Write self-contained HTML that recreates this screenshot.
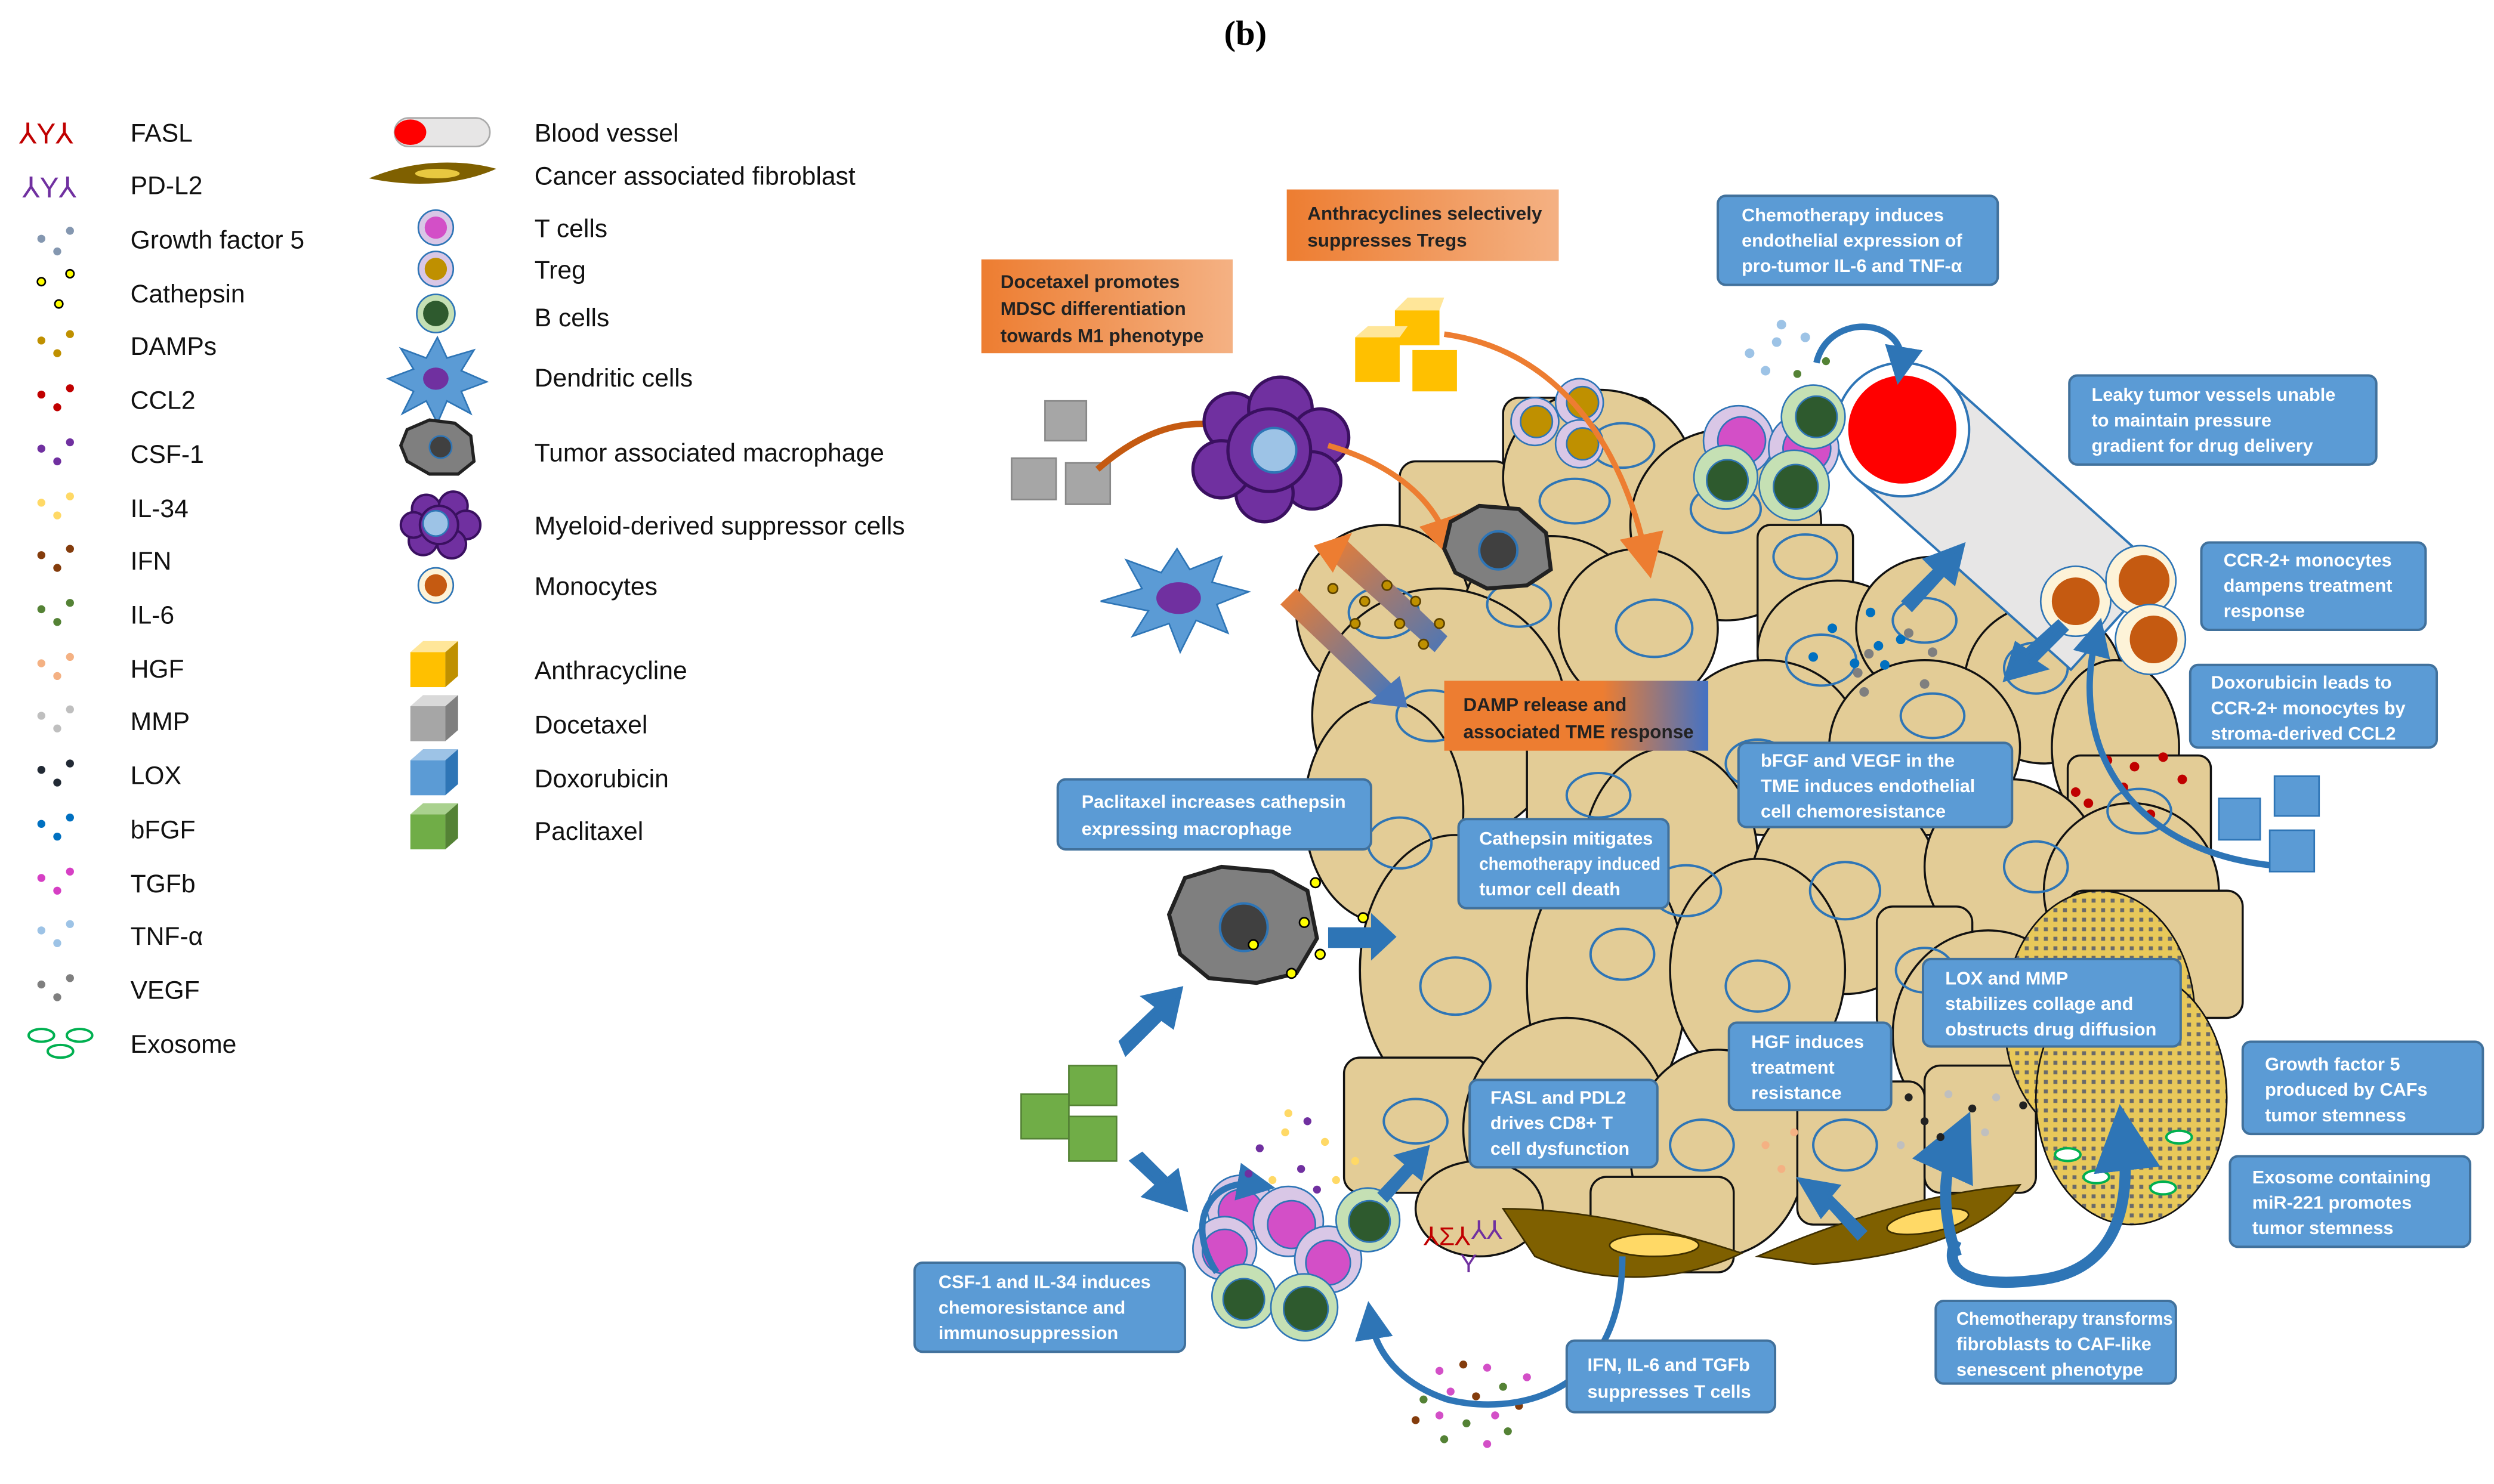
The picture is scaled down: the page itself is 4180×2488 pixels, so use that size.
<!DOCTYPE html>
<html><head><meta charset="utf-8"><style>
html,body{margin:0;padding:0;background:#fff;}
svg{display:block;}
text{font-family:"Liberation Sans",sans-serif;}
.bt{fill:#fff;font-size:11.5px;font-weight:bold;}
.ot{fill:#222;font-size:11.8px;font-weight:bold;}
.lg{fill:#111;font-size:16px;}
.c{fill:#e3cc96;stroke:#111;stroke-width:1.3;}
.n{fill:none;stroke:#2e75b6;stroke-width:1.5;}
.bx{fill:#5b9bd5;stroke:#41719c;stroke-width:1.5;}
</style></head><body>
<svg width="4180" height="2488" viewBox="0 0 1568 933" xmlns="http://www.w3.org/2000/svg">
<defs>
<linearGradient id="og" x1="0" x2="1"><stop offset="0" stop-color="#ed7d31"/><stop offset="1" stop-color="#f4b183"/></linearGradient>
<linearGradient id="og2" x1="0" x2="1"><stop offset="0" stop-color="#ed7d31"/><stop offset="0.6" stop-color="#ed7d31"/><stop offset="1" stop-color="#4472c4"/></linearGradient>
<linearGradient id="ag" x1="0" y1="0" x2="1" y2="1"><stop offset="0" stop-color="#ed7d31"/><stop offset="1" stop-color="#4a76b8"/></linearGradient>
<pattern id="dots" width="6" height="6" patternUnits="userSpaceOnUse"><rect width="6" height="6" fill="#e8c85a"/><rect x="1" y="1" width="2.5" height="2.5" fill="#6a6a6a"/></pattern>
<marker id="ma" markerWidth="8" markerHeight="8" refX="4" refY="4" orient="auto"><path d="M0,0 L8,4 L0,8 z" fill="#ed7d31"/></marker>
<marker id="mb" markerWidth="6" markerHeight="6" refX="3" refY="3" orient="auto"><path d="M0,0 L6,3 L0,6 z" fill="#2e75b6"/></marker>
</defs>

<text x="783" y="28" text-anchor="middle" style="font-family:'Liberation Serif',serif" font-weight="bold" font-size="22">(b)</text>

<g fill="#c00000" font-size="18"><text x="12" y="90">⅄Y⅄</text></g>
<g fill="#7030a0" font-size="18"><text x="14" y="124">⅄Y⅄</text></g>
<g>
<g><circle cx="26" cy="150" r="2.5" fill="#8497b0"/><circle cx="44" cy="145" r="2.5" fill="#8497b0"/><circle cx="36" cy="158" r="2.5" fill="#8497b0"/></g>
<g fill="#ff0" stroke="#000"><circle cx="26" cy="177" r="2.5"/><circle cx="44" cy="172" r="2.5"/><circle cx="37" cy="191" r="2.5"/></g>
<g fill="#bf9000"><circle cx="26" cy="214" r="2.5"/><circle cx="44" cy="210" r="2.5"/><circle cx="36" cy="222" r="2.5"/></g>
<g fill="#c00000"><circle cx="26" cy="248" r="2.5"/><circle cx="44" cy="244" r="2.5"/><circle cx="36" cy="256" r="2.5"/></g>
<g fill="#7030a0"><circle cx="26" cy="282" r="2.5"/><circle cx="44" cy="278" r="2.5"/><circle cx="36" cy="290" r="2.5"/></g>
<g fill="#ffd966"><circle cx="26" cy="316" r="2.5"/><circle cx="44" cy="312" r="2.5"/><circle cx="36" cy="324" r="2.5"/></g>
<g fill="#843c0c"><circle cx="26" cy="349" r="2.5"/><circle cx="44" cy="345" r="2.5"/><circle cx="36" cy="357" r="2.5"/></g>
<g fill="#548235"><circle cx="26" cy="383" r="2.5"/><circle cx="44" cy="379" r="2.5"/><circle cx="36" cy="391" r="2.5"/></g>
<g fill="#f4b183"><circle cx="26" cy="417" r="2.5"/><circle cx="44" cy="413" r="2.5"/><circle cx="36" cy="425" r="2.5"/></g>
<g fill="#bfbfbf"><circle cx="26" cy="450" r="2.5"/><circle cx="44" cy="446" r="2.5"/><circle cx="36" cy="458" r="2.5"/></g>
<g fill="#222a35"><circle cx="26" cy="484" r="2.5"/><circle cx="44" cy="480" r="2.5"/><circle cx="36" cy="492" r="2.5"/></g>
<g fill="#0070c0"><circle cx="26" cy="518" r="2.5"/><circle cx="44" cy="514" r="2.5"/><circle cx="36" cy="526" r="2.5"/></g>
<g fill="#d63fc4"><circle cx="26" cy="552" r="2.5"/><circle cx="44" cy="548" r="2.5"/><circle cx="36" cy="560" r="2.5"/></g>
<g fill="#9dc3e6"><circle cx="26" cy="585" r="2.5"/><circle cx="44" cy="581" r="2.5"/><circle cx="36" cy="593" r="2.5"/></g>
<g fill="#7f7f7f"><circle cx="26" cy="619" r="2.5"/><circle cx="44" cy="615" r="2.5"/><circle cx="36" cy="627" r="2.5"/></g>
<g fill="none" stroke="#00b050" stroke-width="1.5"><ellipse cx="26" cy="651" rx="8" ry="4"/><ellipse cx="50" cy="651" rx="8" ry="4"/><ellipse cx="38" cy="661" rx="8" ry="4"/></g>
</g>
<g class="lg">
<text x="82" y="89">FASL</text><text x="82" y="122">PD-L2</text><text x="82" y="156">Growth factor 5</text><text x="82" y="190">Cathepsin</text><text x="82" y="223">DAMPs</text><text x="82" y="257">CCL2</text><text x="82" y="291">CSF-1</text><text x="82" y="325">IL-34</text><text x="82" y="358">IFN</text><text x="82" y="392">IL-6</text><text x="82" y="426">HGF</text><text x="82" y="459">MMP</text><text x="82" y="493">LOX</text><text x="82" y="527">bFGF</text><text x="82" y="561">TGFb</text><text x="82" y="594">TNF-α</text><text x="82" y="628">VEGF</text><text x="82" y="662">Exosome</text>
</g>
<rect x="248" y="74" width="60" height="18" rx="9" fill="#e7e6e6" stroke="#aaa"/><ellipse cx="258" cy="83" rx="10" ry="8" fill="#f00"/>
<path d="M232,112 C260,100 290,100 312,106 C290,116 260,118 232,112z" fill="#7f6000"/><ellipse cx="275" cy="109" rx="14" ry="3" fill="#e8c840"/>
<circle cx="274" cy="143" r="11" fill="#d9c7e6" stroke="#2e75b6"/><circle cx="274" cy="143" r="7" fill="#d34fc7"/>
<circle cx="274" cy="169" r="11" fill="#d9c7e6" stroke="#2e75b6"/><circle cx="274" cy="169" r="7" fill="#bf9000"/>
<circle cx="274" cy="197" r="12" fill="#c5e0b4" stroke="#2e75b6"/><circle cx="274" cy="197" r="8" fill="#2e5a2e"/>
<polygon points="275,212 281,225 298,220 290,233 306,240 290,246 296,260 281,252 275,266 268,252 253,260 260,246 244,238 260,232 252,219 268,225" fill="#5b9bd5" stroke="#2e75b6"/><ellipse cx="274" cy="238" rx="8" ry="7" fill="#7030a0"/>
<path d="M256,270 L270,264 L286,266 L296,274 L298,290 L288,298 L270,298 L256,290 L252,280z" fill="#7f7f7f" stroke="#222" stroke-width="2"/><circle cx="277" cy="281" r="7" fill="#404040" stroke="#2e75b6"/>
<g fill="#7030a0" stroke="#3a1060" stroke-width="1.5"><circle cx="268" cy="320" r="9"/><circle cx="285" cy="318" r="9"/><circle cx="293" cy="330" r="9"/><circle cx="284" cy="342" r="9"/><circle cx="266" cy="340" r="9"/><circle cx="260" cy="330" r="8"/><circle cx="276" cy="330" r="12"/></g><circle cx="274" cy="329" r="8" fill="#9dc3e6" stroke="#2e75b6"/>
<circle cx="274" cy="368" r="11" fill="#fdf3d8" stroke="#2e75b6"/><circle cx="274" cy="368" r="7" fill="#c55a11"/>
<g><polygon points="258,410 280,410 288,403 266,403" fill="#ffe699"/><rect x="258" y="410" width="22" height="22" fill="#ffc000"/><polygon points="280,410 288,403 288,425 280,432" fill="#bf9000"/></g>
<g><polygon points="258,444 280,444 288,437 266,437" fill="#d9d9d9"/><rect x="258" y="444" width="22" height="22" fill="#a6a6a6"/><polygon points="280,444 288,437 288,459 280,466" fill="#7f7f7f"/></g>
<g><polygon points="258,478 280,478 288,471 266,471" fill="#9dc3e6"/><rect x="258" y="478" width="22" height="22" fill="#5b9bd5"/><polygon points="280,478 288,471 288,493 280,500" fill="#2e75b6"/></g>
<g><polygon points="258,512 280,512 288,505 266,505" fill="#a9d18e"/><rect x="258" y="512" width="22" height="22" fill="#70ad47"/><polygon points="280,512 288,505 288,527 280,534" fill="#548235"/></g>
<g class="lg">
<text x="336" y="89">Blood vessel</text><text x="336" y="116">Cancer associated fibroblast</text><text x="336" y="149">T cells</text><text x="336" y="175">Treg</text><text x="336" y="205">B cells</text><text x="336" y="243">Dendritic cells</text><text x="336" y="290">Tumor associated macrophage</text><text x="336" y="336">Myeloid-derived suppressor cells</text><text x="336" y="374">Monocytes</text><text x="336" y="427">Anthracycline</text><text x="336" y="461">Docetaxel</text><text x="336" y="495">Doxorubicin</text><text x="336" y="528">Paclitaxel</text>
</g>

<g>
<rect class="c" x="945" y="250" width="95" height="105" rx="10"/>
<rect class="c" x="880" y="290" width="70" height="90" rx="10"/>
<ellipse class="c" cx="1005" cy="300" rx="60" ry="55"/>
<ellipse class="c" cx="1085" cy="330" rx="60" ry="60"/>
<ellipse class="c" cx="870" cy="385" rx="55" ry="55"/>
<ellipse class="c" cx="975" cy="385" rx="55" ry="48"/>
<ellipse class="c" cx="1030" cy="395" rx="50" ry="50"/>
<rect class="c" x="1105" y="330" width="60" height="90" rx="8"/>
<ellipse class="c" cx="1155" cy="410" rx="50" ry="45"/>
<ellipse class="c" cx="1215" cy="395" rx="48" ry="45"/>
<ellipse class="c" cx="1285" cy="430" rx="50" ry="50"/>
<ellipse class="c" cx="1330" cy="470" rx="40" ry="55"/>
<ellipse class="c" cx="905" cy="450" rx="80" ry="80"/>
<rect class="c" x="960" y="440" width="90" height="120" rx="10"/>
<ellipse class="c" cx="1110" cy="470" rx="60" ry="55"/>
<ellipse class="c" cx="1210" cy="470" rx="60" ry="55"/>
<rect class="c" x="1300" y="475" width="90" height="80" rx="8"/>
<ellipse class="c" cx="870" cy="510" rx="50" ry="70"/>
<ellipse class="c" cx="1050" cy="540" rx="55" ry="70"/>
<ellipse class="c" cx="1160" cy="560" rx="60" ry="65"/>
<ellipse class="c" cx="1265" cy="545" rx="55" ry="55"/>
<ellipse class="c" cx="1340" cy="560" rx="55" ry="55"/>
<ellipse class="c" cx="915" cy="610" rx="60" ry="85"/>
<ellipse class="c" cx="1010" cy="620" rx="50" ry="85"/>
<ellipse class="c" cx="1105" cy="610" rx="55" ry="70"/>
<rect class="c" x="1180" y="570" width="60" height="80" rx="10"/>
<rect class="c" x="1300" y="560" width="110" height="80" rx="10"/>
<ellipse class="c" cx="1250" cy="650" rx="60" ry="65"/>
<rect class="c" x="845" y="665" width="90" height="85" rx="10"/>
<ellipse class="c" cx="985" cy="710" rx="65" ry="70"/>
<ellipse class="c" cx="1080" cy="725" rx="55" ry="65"/>
<rect class="c" x="1130" y="680" width="80" height="90" rx="10"/>
<rect class="c" x="1210" y="670" width="70" height="80" rx="10"/>
<ellipse class="c" cx="930" cy="760" rx="40" ry="30"/>
<rect class="c" x="1000" y="740" width="90" height="60" rx="10"/>
</g>
<g>
<ellipse class="n" cx="990" cy="315" rx="22" ry="14"/><ellipse class="n" cx="1020" cy="280" rx="20" ry="14"/><ellipse class="n" cx="1085" cy="320" rx="22" ry="15"/><ellipse class="n" cx="870" cy="385" rx="22" ry="16"/><ellipse class="n" cx="955" cy="380" rx="20" ry="14"/><ellipse class="n" cx="1040" cy="395" rx="24" ry="18"/><ellipse class="n" cx="1135" cy="350" rx="20" ry="14"/><ellipse class="n" cx="1145" cy="415" rx="22" ry="16"/><ellipse class="n" cx="1210" cy="390" rx="20" ry="14"/><ellipse class="n" cx="1280" cy="420" rx="20" ry="16"/><ellipse class="n" cx="900" cy="450" rx="22" ry="16"/><ellipse class="n" cx="1005" cy="500" rx="20" ry="14"/><ellipse class="n" cx="1105" cy="480" rx="20" ry="15"/><ellipse class="n" cx="1215" cy="450" rx="20" ry="14"/><ellipse class="n" cx="1345" cy="510" rx="20" ry="14"/><ellipse class="n" cx="880" cy="530" rx="20" ry="16"/><ellipse class="n" cx="1060" cy="560" rx="22" ry="16"/><ellipse class="n" cx="1160" cy="560" rx="22" ry="18"/><ellipse class="n" cx="1280" cy="545" rx="20" ry="16"/><ellipse class="n" cx="915" cy="620" rx="22" ry="18"/><ellipse class="n" cx="1020" cy="600" rx="20" ry="16"/><ellipse class="n" cx="1105" cy="620" rx="20" ry="16"/><ellipse class="n" cx="1210" cy="610" rx="18" ry="14"/><ellipse class="n" cx="890" cy="705" rx="20" ry="14"/><ellipse class="n" cx="1070" cy="720" rx="20" ry="16"/><ellipse class="n" cx="1160" cy="720" rx="20" ry="16"/><ellipse class="n" cx="1330" cy="595" rx="20" ry="14"/>
</g>

<ellipse cx="1320" cy="640" rx="60" ry="80" fill="url(#dots)" stroke="#111"/>
<ellipse cx="1340" cy="690" rx="60" ry="80" fill="url(#dots)" stroke="#111"/>
<g fill="#fff" stroke="#00b050" stroke-width="1.5"><ellipse cx="1300" cy="726" rx="8" ry="4"/><ellipse cx="1318" cy="740" rx="8" ry="4"/><ellipse cx="1370" cy="715" rx="8" ry="4"/><ellipse cx="1360" cy="747" rx="8" ry="4"/></g>
<path d="M945,760 C990,760 1040,770 1095,788 C1060,805 1010,810 965,790 Z" fill="#7f6000" stroke="#3d2e00"/>
<ellipse cx="1040" cy="783" rx="28" ry="7" fill="#ffd966" stroke="#3d2e00"/>
<path d="M1105,790 C1150,770 1210,750 1270,745 C1250,775 1200,790 1140,795 Z" fill="#7f6000" stroke="#3d2e00"/>
<ellipse cx="1212" cy="768" rx="26" ry="7" fill="#ffd966" stroke="#3d2e00" transform="rotate(-10 1212 768)"/>

<polygon points="1168,301 1224,239 1358,359 1302,421" fill="#e7e6e6" stroke="#2e75b6" stroke-width="1.5"/>
<circle cx="1196" cy="270" r="42" fill="#fff" stroke="#2e75b6" stroke-width="1.5"/>
<circle cx="1196" cy="270" r="34" fill="#f00"/>
<g><circle cx="1305" cy="378" r="22" fill="#fdf3d8" stroke="#2e75b6"/><circle cx="1305" cy="378" r="15" fill="#c55a11"/>
<circle cx="1346" cy="365" r="22" fill="#fdf3d8" stroke="#2e75b6"/><circle cx="1348" cy="365" r="16" fill="#c55a11"/>
<circle cx="1352" cy="402" r="22" fill="#fdf3d8" stroke="#2e75b6"/><circle cx="1354" cy="402" r="15" fill="#c55a11"/></g>
<g stroke="#2e75b6">
<circle cx="1093" cy="277" r="22" fill="#d9c7e6"/><circle cx="1095" cy="277" r="15" fill="#d34fc7"/>
<circle cx="1134" cy="282" r="22" fill="#d9c7e6"/><circle cx="1136" cy="282" r="15" fill="#d34fc7"/>
<circle cx="1085" cy="300" r="20" fill="#c5e0b4"/><circle cx="1086" cy="302" r="13" fill="#2e5a2e"/>
<circle cx="1128" cy="305" r="22" fill="#c5e0b4"/><circle cx="1129" cy="306" r="14" fill="#2e5a2e"/>
<circle cx="1140" cy="262" r="20" fill="#c5e0b4"/><circle cx="1142" cy="262" r="13" fill="#2e5a2e"/>
</g>
<g fill="#9dc3e6"><circle cx="1100" cy="222" r="3"/><circle cx="1117" cy="215" r="3"/><circle cx="1135" cy="212" r="3"/><circle cx="1110" cy="233" r="3"/><circle cx="1120" cy="204" r="3"/></g>
<g fill="#548235"><circle cx="1148" cy="227" r="2.5"/><circle cx="1196" cy="225" r="2.5"/><circle cx="1130" cy="235" r="2.5"/></g>
<path d="M1142,228 C1150,195 1200,200 1195,230" fill="none" stroke="#2e75b6" stroke-width="4" marker-end="url(#mb)"/>
<g stroke="#2e75b6"><circle cx="965" cy="265" r="15" fill="#d9c7e6"/><circle cx="966" cy="265" r="10" fill="#bf9000"/>
<circle cx="993" cy="253" r="15" fill="#d9c7e6"/><circle cx="995" cy="253" r="10" fill="#bf9000"/>
<circle cx="993" cy="279" r="15" fill="#d9c7e6"/><circle cx="995" cy="279" r="10" fill="#bf9000"/></g>

<g><rect x="877" y="195" width="28" height="22" fill="#ffc000"/><rect x="852" y="212" width="28" height="28" fill="#ffc000"/><rect x="888" y="220" width="28" height="26" fill="#ffc000"/>
<polygon points="877,195 885,187 908,187 905,195" fill="#ffe699"/><polygon points="852,212 860,205 885,205 880,212" fill="#ffe699"/></g>
<path d="M908,210 C980,220 1020,280 1035,350" fill="none" stroke="#ed7d31" stroke-width="3.5" marker-end="url(#ma)"/>
<g><rect x="657" y="252" width="26" height="25" fill="#a6a6a6" stroke="#888"/><rect x="636" y="288" width="28" height="26" fill="#a6a6a6" stroke="#888"/><rect x="670" y="291" width="28" height="26" fill="#a6a6a6" stroke="#888"/></g>
<path d="M690,295 C730,260 760,265 780,270" fill="none" stroke="#c55a11" stroke-width="4"/>
<g fill="#7030a0" stroke="#3a1060" stroke-width="2"><circle cx="775" cy="265" r="18"/><circle cx="805" cy="257" r="20"/><circle cx="830" cy="275" r="18"/><circle cx="825" cy="302" r="18"/><circle cx="795" cy="310" r="18"/><circle cx="768" cy="295" r="18"/><circle cx="798" cy="283" r="26"/></g>
<circle cx="801" cy="283" r="14" fill="#9dc3e6" stroke="#2e75b6" stroke-width="1.5"/>
<path d="M835,280 C870,290 900,310 910,340" fill="none" stroke="#ed7d31" stroke-width="3.5" marker-end="url(#ma)"/>
<path d="M912,328 L930,318 L955,320 L972,335 L975,358 L960,368 L935,370 L915,360 L908,345z" fill="#7f7f7f" stroke="#222" stroke-width="2.5"/>
<circle cx="942" cy="346" r="12" fill="#404040" stroke="#2e75b6" stroke-width="1.5"/>
<polygon points="740,345 748,358 768,350 762,366 785,372 765,380 772,398 752,390 742,410 735,392 712,400 722,384 692,378 718,370 708,352 730,360" fill="#5b9bd5" stroke="#2e75b6"/><ellipse cx="741" cy="376" rx="14" ry="10" fill="#7030a0"/>
<polygon points="832,345 845,338 910,400 902,410 837,352" fill="url(#ag)"/>
<polygon points="826,343 850,335 838,360" fill="#ed7d31"/>
<polygon points="805,380 815,370 875,430 866,438" fill="url(#ag)"/>
<polygon points="885,445 860,442 880,425" fill="#4a76b8"/>
<g fill="#bf9000" stroke="#5a4000"><circle cx="838" cy="370" r="3"/><circle cx="858" cy="378" r="3"/><circle cx="872" cy="368" r="3"/><circle cx="890" cy="378" r="3"/><circle cx="852" cy="392" r="3"/><circle cx="880" cy="392" r="3"/><circle cx="905" cy="392" r="3"/><circle cx="895" cy="405" r="3"/></g>
<g fill="#0070c0"><circle cx="1152" cy="395" r="3"/><circle cx="1176" cy="385" r="3"/><circle cx="1181" cy="406" r="3"/><circle cx="1140" cy="413" r="3"/><circle cx="1195" cy="402" r="3"/><circle cx="1166" cy="417" r="3"/><circle cx="1185" cy="418" r="3"/></g>
<g fill="#7f7f7f"><circle cx="1175" cy="411" r="3"/><circle cx="1200" cy="398" r="3"/><circle cx="1168" cy="423" r="3"/><circle cx="1215" cy="410" r="3"/><circle cx="1210" cy="430" r="3"/><circle cx="1172" cy="435" r="3"/></g>
<polygon points="1198,378 1218,358 1212,352 1233,344 1228,365 1222,360 1202,382" fill="#2e75b6" stroke="#2e75b6" stroke-width="4"/>
<polygon points="1298,396 1278,416 1284,420 1262,426 1268,406 1274,410 1294,392" fill="#2e75b6" stroke="#2e75b6" stroke-width="4"/>
<g fill="#c00000"><circle cx="1325" cy="478" r="3"/><circle cx="1342" cy="482" r="3"/><circle cx="1360" cy="476" r="3"/><circle cx="1372" cy="490" r="3"/><circle cx="1335" cy="495" r="3"/><circle cx="1305" cy="498" r="3"/><circle cx="1352" cy="512" r="3"/><circle cx="1313" cy="505" r="3"/></g>
<path d="M1440,545 C1340,540 1300,470 1318,400" fill="none" stroke="#2e75b6" stroke-width="4" marker-end="url(#mb)"/>
<g><rect x="1395" y="502" width="26" height="26" fill="#5b9bd5" stroke="#2e75b6"/><rect x="1430" y="488" width="28" height="25" fill="#5b9bd5" stroke="#2e75b6"/><rect x="1427" y="522" width="28" height="26" fill="#5b9bd5" stroke="#2e75b6"/></g>
<path d="M745,552 L768,545 L800,548 L822,560 L828,590 L815,612 L790,618 L760,615 L742,600 L735,575z" fill="#7f7f7f" stroke="#222" stroke-width="2.5"/>
<circle cx="782" cy="583" r="15" fill="#404040" stroke="#2e75b6" stroke-width="1.5"/>
<g fill="#ff0" stroke="#000"><circle cx="827" cy="555" r="3"/><circle cx="820" cy="580" r="3"/><circle cx="830" cy="600" r="3"/><circle cx="857" cy="577" r="3"/><circle cx="788" cy="594" r="3"/><circle cx="812" cy="612" r="3"/></g>
<polygon points="835,583 862,583 862,574 878,589 862,604 862,596 835,596" fill="#2e75b6"/>
<polygon points="705,655 728,633 720,627 742,622 737,645 730,640 708,662" fill="#2e75b6" stroke="#2e75b6" stroke-width="3"/>
<polygon points="712,730 728,745 720,752 745,760 740,737 734,742 718,726" fill="#2e75b6" stroke="#2e75b6" stroke-width="3"/>
<g><rect x="672" y="670" width="30" height="25" fill="#70ad47" stroke="#548235"/><rect x="642" y="688" width="30" height="28" fill="#70ad47" stroke="#548235"/><rect x="672" y="702" width="30" height="28" fill="#70ad47" stroke="#548235"/></g>
<g stroke="#2e75b6">
<circle cx="780" cy="760" r="21" fill="#d9c7e6"/><circle cx="780" cy="762" r="14" fill="#d34fc7"/>
<circle cx="810" cy="768" r="22" fill="#d9c7e6"/><circle cx="812" cy="770" r="15" fill="#d34fc7"/>
<circle cx="835" cy="792" r="21" fill="#d9c7e6"/><circle cx="835" cy="794" r="14" fill="#d34fc7"/>
<circle cx="770" cy="785" r="20" fill="#d9c7e6"/><circle cx="770" cy="787" r="14" fill="#d34fc7"/>
<circle cx="782" cy="815" r="20" fill="#c5e0b4"/><circle cx="782" cy="817" r="13" fill="#2e5a2e"/>
<circle cx="820" cy="822" r="21" fill="#c5e0b4"/><circle cx="821" cy="823" r="14" fill="#2e5a2e"/>
<circle cx="860" cy="767" r="20" fill="#c5e0b4"/><circle cx="861" cy="768" r="13" fill="#2e5a2e"/>
</g>
<path d="M765,800 C745,770 760,740 790,745" fill="none" stroke="#2e75b6" stroke-width="4" marker-end="url(#mb)"/>
<polygon points="868,750 885,732 879,727 897,722 893,740 888,736 872,754" fill="#2e75b6" stroke="#2e75b6" stroke-width="3"/>
<g><circle cx="792" cy="722" r="2.5" fill="#7030a0"/><circle cx="808" cy="712" r="2.5" fill="#ffd966"/><circle cx="822" cy="705" r="2.5" fill="#7030a0"/><circle cx="833" cy="718" r="2.5" fill="#ffd966"/><circle cx="818" cy="735" r="2.5" fill="#7030a0"/><circle cx="840" cy="742" r="2.5" fill="#ffd966"/><circle cx="800" cy="742" r="2.5" fill="#ffd966"/><circle cx="828" cy="748" r="2.5" fill="#7030a0"/><circle cx="852" cy="730" r="2.5" fill="#ffd966"/><circle cx="785" cy="738" r="2.5" fill="#7030a0"/><circle cx="810" cy="700" r="2.5" fill="#ffd966"/></g>
<text x="895" y="783" font-size="16" fill="#c00000">⅄Σ⅄</text><text x="925" y="779" font-size="16" fill="#7030a0">⅄⅄</text><text x="918" y="800" font-size="16" fill="#7030a0">Y</text>
<g><circle cx="905" cy="862" r="2.5" fill="#d34fc7"/><circle cx="920" cy="858" r="2.5" fill="#843c0c"/><circle cx="935" cy="860" r="2.5" fill="#d34fc7"/><circle cx="895" cy="880" r="2.5" fill="#548235"/><circle cx="912" cy="875" r="2.5" fill="#d34fc7"/><circle cx="928" cy="878" r="2.5" fill="#843c0c"/><circle cx="945" cy="872" r="2.5" fill="#548235"/><circle cx="890" cy="893" r="2.5" fill="#843c0c"/><circle cx="905" cy="890" r="2.5" fill="#d34fc7"/><circle cx="922" cy="895" r="2.5" fill="#548235"/><circle cx="940" cy="890" r="2.5" fill="#d34fc7"/><circle cx="955" cy="884" r="2.5" fill="#843c0c"/><circle cx="908" cy="905" r="2.5" fill="#548235"/><circle cx="935" cy="908" r="2.5" fill="#d34fc7"/><circle cx="948" cy="900" r="2.5" fill="#548235"/><circle cx="960" cy="866" r="2.5" fill="#d34fc7"/></g>
<path d="M1020,790 C1020,880 950,890 910,880 C880,870 865,850 862,830" fill="none" stroke="#2e75b6" stroke-width="4" marker-end="url(#mb)"/>
<path d="M1230,780 C1220,800 1240,810 1280,805 C1330,800 1340,760 1335,715" fill="none" stroke="#2e75b6" stroke-width="7" marker-end="url(#mb)"/>
<path d="M1230,790 C1222,765 1220,740 1230,718" fill="none" stroke="#2e75b6" stroke-width="7" marker-end="url(#mb)"/>
<polygon points="1168,778 1150,758 1145,764 1132,742 1155,746 1150,752 1172,774" fill="#2e75b6" stroke="#2e75b6" stroke-width="3"/>
<g><circle cx="1200" cy="690" r="2.5" fill="#222"/><circle cx="1225" cy="688" r="2.5" fill="#bfbfbf"/><circle cx="1240" cy="697" r="2.5" fill="#222"/><circle cx="1210" cy="705" r="2.5" fill="#222"/><circle cx="1255" cy="690" r="2.5" fill="#bfbfbf"/><circle cx="1220" cy="715" r="2.5" fill="#222"/><circle cx="1248" cy="712" r="2.5" fill="#bfbfbf"/><circle cx="1272" cy="695" r="2.5" fill="#222"/><circle cx="1195" cy="720" r="2.5" fill="#bfbfbf"/><circle cx="1110" cy="720" r="2.5" fill="#f4b183"/><circle cx="1128" cy="712" r="2.5" fill="#f4b183"/><circle cx="1120" cy="735" r="2.5" fill="#f4b183"/></g>

<g>
<rect class="bx" x="1080" y="123" width="176" height="56" rx="5"/>
<text class="bt"><tspan x="1095" y="139">Chemotherapy induces</tspan><tspan x="1095" y="155">endothelial expression of</tspan><tspan x="1095" y="171">pro-tumor IL-6 and TNF-α</tspan></text>
<rect class="bx" x="1301" y="236" width="193" height="56" rx="5"/>
<text class="bt"><tspan x="1315" y="252">Leaky tumor vessels unable</tspan><tspan x="1315" y="268">to maintain pressure</tspan><tspan x="1315" y="284">gradient for drug delivery</tspan></text>
<rect class="bx" x="1384" y="341" width="141" height="55" rx="5"/>
<text class="bt"><tspan x="1398" y="356">CCR-2+ monocytes</tspan><tspan x="1398" y="372">dampens treatment</tspan><tspan x="1398" y="388">response</tspan></text>
<rect class="bx" x="1377" y="418" width="155" height="52" rx="5"/>
<text class="bt"><tspan x="1390" y="433">Doxorubicin leads to</tspan><tspan x="1390" y="449">CCR-2+ monocytes by</tspan><tspan x="1390" y="465">stroma-derived CCL2</tspan></text>
<rect class="bx" x="1093" y="467" width="172" height="53" rx="5"/>
<text class="bt"><tspan x="1107" y="482">bFGF and VEGF in the</tspan><tspan x="1107" y="498">TME induces endothelial</tspan><tspan x="1107" y="514">cell chemoresistance</tspan></text>
<rect class="bx" x="665" y="490" width="197" height="44" rx="5"/>
<text class="bt"><tspan x="680" y="508">Paclitaxel increases cathepsin</tspan><tspan x="680" y="525">expressing macrophage</tspan></text>
<rect class="bx" x="917" y="515" width="132" height="56" rx="5"/>
<text class="bt"><tspan x="930" y="531">Cathepsin mitigates</tspan><tspan x="930" y="547" textLength="114" lengthAdjust="spacingAndGlyphs">chemotherapy induced</tspan><tspan x="930" y="563">tumor cell death</tspan></text>
<rect class="bx" x="1209" y="603" width="162" height="55" rx="5"/>
<text class="bt"><tspan x="1223" y="619">LOX and MMP</tspan><tspan x="1223" y="635">stabilizes collage and</tspan><tspan x="1223" y="651">obstructs drug diffusion</tspan></text>
<rect class="bx" x="1087" y="643" width="102" height="55" rx="5"/>
<text class="bt"><tspan x="1101" y="659">HGF induces</tspan><tspan x="1101" y="675">treatment</tspan><tspan x="1101" y="691">resistance</tspan></text>
<rect class="bx" x="1410" y="655" width="151" height="58" rx="5"/>
<text class="bt"><tspan x="1424" y="673">Growth factor 5</tspan><tspan x="1424" y="689">produced by CAFs</tspan><tspan x="1424" y="705">tumor stemness</tspan></text>
<rect class="bx" x="1402" y="727" width="151" height="57" rx="5"/>
<text class="bt"><tspan x="1416" y="744">Exosome containing</tspan><tspan x="1416" y="760">miR-221 promotes</tspan><tspan x="1416" y="776">tumor stemness</tspan></text>
<rect class="bx" x="924" y="679" width="118" height="55" rx="5"/>
<text class="bt"><tspan x="937" y="694">FASL and PDL2</tspan><tspan x="937" y="710">drives CD8+ T</tspan><tspan x="937" y="726">cell dysfunction</tspan></text>
<rect class="bx" x="575" y="794" width="170" height="56" rx="5"/>
<text class="bt"><tspan x="590" y="810">CSF-1 and IL-34 induces</tspan><tspan x="590" y="826">chemoresistance and</tspan><tspan x="590" y="842">immunosuppression</tspan></text>
<rect class="bx" x="985" y="843" width="131" height="45" rx="5"/>
<text class="bt"><tspan x="998" y="862">IFN, IL-6 and TGFb</tspan><tspan x="998" y="879">suppresses T cells</tspan></text>
<rect class="bx" x="1217" y="818" width="151" height="52" rx="5"/>
<text class="bt"><tspan x="1230" y="833" textLength="136" lengthAdjust="spacingAndGlyphs">Chemotherapy transforms</tspan><tspan x="1230" y="849">fibroblasts to CAF-like</tspan><tspan x="1230" y="865">senescent phenotype</tspan></text>
</g>
<rect x="617" y="163" width="158" height="59" fill="url(#og)"/>
<text class="ot"><tspan x="629" y="181">Docetaxel promotes</tspan><tspan x="629" y="198">MDSC differentiation</tspan><tspan x="629" y="215">towards M1 phenotype</tspan></text>
<rect x="809" y="119" width="171" height="45" fill="url(#og)"/>
<text class="ot"><tspan x="822" y="138">Anthracyclines selectively</tspan><tspan x="822" y="155">suppresses Tregs</tspan></text>
<rect x="908" y="428" width="166" height="44" fill="url(#og2)"/>
<text class="ot"><tspan x="920" y="447">DAMP release and</tspan><tspan x="920" y="464">associated TME response</tspan></text>
</svg>
</body></html>
